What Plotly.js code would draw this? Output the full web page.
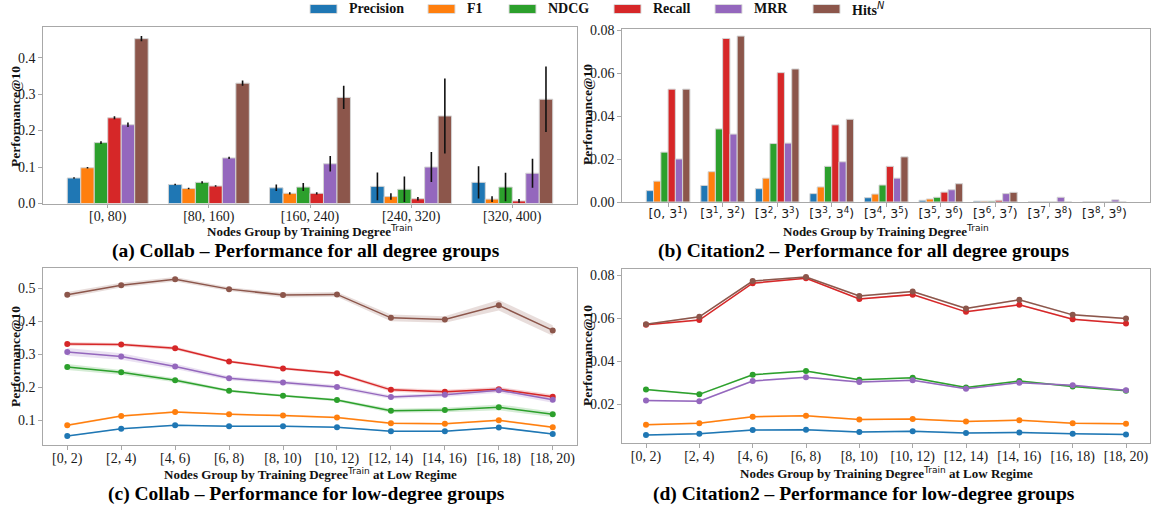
<!DOCTYPE html>
<html>
<head>
<meta charset="utf-8">
<script src="https://cdn.plot.ly/plotly-3.0.1.min.js"></script>
<style>html,body{margin:0;padding:0;background:#fff;}#chart{width:1153px;height:507px;}</style>
</head>
<body>
<div id="chart"></div>
<script>
// ---------------- DATA ----------------
const metricNames = ['Precision', 'F1', 'NDCG', 'Recall', 'MRR', 'Hits<sup><span style="font-family:DejaVu Sans;font-style:italic;font-weight:normal">N</span></sup>'];

const collabAllGroups = ['[0, 80)', '[80, 160)', '[160, 240)', '[240, 320)', '[320, 400)'];
const collabAllPrecision = [0.070, 0.052, 0.043, 0.047, 0.058];
const collabAllPrecisionErr = [0.002, 0.002, 0.009, 0.038, 0.044];
const collabAllF1 = [0.098, 0.041, 0.028, 0.019, 0.012];
const collabAllF1Err = [0.002, 0.002, 0.003, 0.009, 0.008];
const collabAllNDCG = [0.167, 0.058, 0.045, 0.039, 0.045];
const collabAllNDCGErr = [0.004, 0.003, 0.011, 0.035, 0.039];
const collabAllRecall = [0.235, 0.048, 0.028, 0.013, 0.007];
const collabAllRecallErr = [0.004, 0.002, 0.003, 0.005, 0.005];
const collabAllMRR = [0.216, 0.125, 0.109, 0.100, 0.083];
const collabAllMRRErr = [0.006, 0.003, 0.021, 0.041, 0.040];
const collabAllHits = [0.452, 0.330, 0.291, 0.240, 0.286];
const collabAllHitsErr = [0.007, 0.007, 0.032, 0.103, 0.090];

const citeAllGroups = ['[0, 3<sup>1</sup>)', '[3<sup>1</sup>, 3<sup>2</sup>)', '[3<sup>2</sup>, 3<sup>3</sup>)',
  '[3<sup>3</sup>, 3<sup>4</sup>)', '[3<sup>4</sup>, 3<sup>5</sup>)', '[3<sup>5</sup>, 3<sup>6</sup>)',
  '[3<sup>6</sup>, 3<sup>7</sup>)', '[3<sup>7</sup>, 3<sup>8</sup>)', '[3<sup>8</sup>, 3<sup>9</sup>)'];
const citeAllPrecision = [0.0053, 0.0077, 0.0062, 0.0039, 0.0020, 0.0008, 0.0004, 0, 0];
const citeAllF1 = [0.0097, 0.0141, 0.0111, 0.0070, 0.0037, 0.0014, 0.0004, 0, 0];
const citeAllNDCG = [0.0232, 0.0340, 0.0272, 0.0166, 0.0079, 0.0022, 0.0004, 0, 0];
const citeAllRecall = [0.0525, 0.0761, 0.0602, 0.0359, 0.0166, 0.0046, 0.0008, 0, 0];
const citeAllMRR = [0.0200, 0.0316, 0.0274, 0.0187, 0.0111, 0.0057, 0.0039, 0.0022, 0.0010];
const citeAllHits = [0.0525, 0.0772, 0.0619, 0.0385, 0.0210, 0.0085, 0.0045, 0, 0];

const lowGroups = ['[0, 2)', '[2, 4)', '[4, 6)', '[6, 8)', '[8, 10)', '[10, 12)', '[12, 14)', '[14, 16)', '[16, 18)', '[18, 20)'];
const collabLowPrecision = [0.052, 0.074, 0.085, 0.082, 0.082, 0.079, 0.067, 0.067, 0.078, 0.058];
const collabLowPrecisionBand = [0.002, 0.002, 0.002, 0.002, 0.002, 0.002, 0.002, 0.002, 0.002, 0.002];
const collabLowF1 = [0.085, 0.113, 0.125, 0.118, 0.114, 0.108, 0.091, 0.089, 0.100, 0.079];
const collabLowF1Band = [0.003, 0.003, 0.003, 0.003, 0.003, 0.003, 0.003, 0.003, 0.003, 0.003];
const collabLowNDCG = [0.261, 0.245, 0.221, 0.189, 0.174, 0.161, 0.129, 0.131, 0.139, 0.118];
const collabLowNDCGBand = [0.009, 0.007, 0.006, 0.004, 0.004, 0.004, 0.006, 0.007, 0.009, 0.008];
const collabLowRecall = [0.331, 0.329, 0.318, 0.278, 0.257, 0.242, 0.192, 0.186, 0.194, 0.171];
const collabLowRecallBand = [0.006, 0.005, 0.005, 0.004, 0.004, 0.004, 0.006, 0.006, 0.007, 0.007];
const collabLowMRR = [0.307, 0.293, 0.263, 0.227, 0.214, 0.201, 0.170, 0.177, 0.191, 0.162];
const collabLowMRRBand = [0.012, 0.010, 0.008, 0.006, 0.006, 0.006, 0.006, 0.007, 0.008, 0.009];
const collabLowHits = [0.480, 0.509, 0.527, 0.497, 0.479, 0.481, 0.410, 0.405, 0.448, 0.372];
const collabLowHitsBand = [0.008, 0.007, 0.007, 0.006, 0.007, 0.007, 0.010, 0.010, 0.016, 0.016];

const citeLowPrecision = [0.0057, 0.0063, 0.0080, 0.0082, 0.0071, 0.0074, 0.0066, 0.0069, 0.0063, 0.0060];
const citeLowF1 = [0.0105, 0.0112, 0.0142, 0.0146, 0.0129, 0.0132, 0.0120, 0.0126, 0.0112, 0.0109];
const citeLowNDCG = [0.0268, 0.0246, 0.0337, 0.0354, 0.0314, 0.0323, 0.0278, 0.0308, 0.0282, 0.0263];
const citeLowRecall = [0.0569, 0.0591, 0.0762, 0.0785, 0.0689, 0.0709, 0.0629, 0.0662, 0.0595, 0.0575];
const citeLowMRR = [0.0217, 0.0214, 0.0308, 0.0325, 0.0303, 0.0311, 0.0272, 0.0300, 0.0288, 0.0265];
const citeLowHits = [0.0571, 0.0606, 0.0772, 0.0791, 0.0703, 0.0723, 0.0645, 0.0685, 0.0615, 0.0598];
const citeLowBand = [0.0004, 0.0004, 0.0004, 0.0004, 0.0004, 0.0004, 0.0004, 0.0004, 0.0004, 0.0004];

const yTitleText = 'Performance@10';
const xTitleAllText = 'Nodes Group by Training Degree';
const xTitleSupText = 'Train';
const xTitleLowSuffix = 'at Low Regime';

// ---------------- STYLE / LAYOUT ----------------
const W = 1153, H = 507;
const colors = ['#1f77b4', '#ff7f0e', '#2ca02c', '#d62728', '#9467bd', '#8c564b'];
const SERIF = '"Liberation Serif", "Times New Roman", Times, serif';
const SANS = '"DejaVu Sans", sans-serif';
const px = x => x / W;
const py = y => 1 - y / H;

const collabAllSeries = [collabAllPrecision, collabAllF1, collabAllNDCG, collabAllRecall, collabAllMRR, collabAllHits];
const collabAllErrs = [collabAllPrecisionErr, collabAllF1Err, collabAllNDCGErr, collabAllRecallErr, collabAllMRRErr, collabAllHitsErr];
const citeAllSeries = [citeAllPrecision, citeAllF1, citeAllNDCG, citeAllRecall, citeAllMRR, citeAllHits];
const collabLowSeries = [collabLowPrecision, collabLowF1, collabLowNDCG, collabLowRecall, collabLowMRR, collabLowHits];
const collabLowBands = [collabLowPrecisionBand, collabLowF1Band, collabLowNDCGBand, collabLowRecallBand, collabLowMRRBand, collabLowHitsBand];
const citeLowSeries = [citeLowPrecision, citeLowF1, citeLowNDCG, citeLowRecall, citeLowMRR, citeLowHits];

function hexA(hex, a) {
  const r = parseInt(hex.slice(1, 3), 16), g = parseInt(hex.slice(3, 5), 16), b = parseInt(hex.slice(5, 7), 16);
  return `rgba(${r},${g},${b},${a})`;
}

const traces = [];
const idxA = collabAllGroups.map((_, i) => i);
const idxB = citeAllGroups.map((_, i) => i);
const idxL = lowGroups.map((_, i) => i);

collabAllSeries.forEach((vals, k) => {
  traces.push({
    type: 'bar', x: idxA, y: vals, xaxis: 'x', yaxis: 'y', name: metricNames[k], showlegend: false,
    marker: {color: colors[k], line: {color: '#d4d4d4', width: 1}},
    error_y: {type: 'data', array: collabAllErrs[k], visible: true, color: '#111', thickness: 1.6, width: 0}
  });
});
citeAllSeries.forEach((vals, k) => {
  traces.push({
    type: 'bar', x: idxB, y: vals, xaxis: 'x2', yaxis: 'y2', name: metricNames[k], showlegend: false,
    marker: {color: colors[k], line: {color: '#d4d4d4', width: 1}}
  });
});

function addLines(series, bands, xa, ya) {
  series.forEach((vals, k) => {
    const band = bands[k];
    const up = vals.map((v, i) => v + band[i]);
    const lo = vals.map((v, i) => v - band[i]);
    traces.push({
      type: 'scatter', mode: 'lines', x: idxL.concat(idxL.slice().reverse()), y: up.concat(lo.slice().reverse()),
      fill: 'toself', fillcolor: hexA(colors[k], 0.2), line: {width: 0}, hoverinfo: 'skip',
      xaxis: xa, yaxis: ya, showlegend: false
    });
  });
  series.forEach((vals, k) => {
    traces.push({
      type: 'scatter', mode: 'lines+markers', x: idxL, y: vals, name: metricNames[k],
      line: {color: colors[k], width: 1.5}, marker: {color: colors[k], size: 6},
      xaxis: xa, yaxis: ya, showlegend: false
    });
  });
}
addLines(collabLowSeries, collabLowBands, 'x3', 'y3');
addLines(citeLowSeries, citeLowSeries.map(() => citeLowBand), 'x4', 'y4');

const frame = {
  showline: true, mirror: true, linecolor: '#a8a8a8', linewidth: 1.3,
  ticks: 'outside', ticklen: 3.5, tickwidth: 1, tickcolor: '#a8a8a8',
  showgrid: false, zeroline: false, automargin: false,
  tickfont: {family: SERIF, size: 14, color: '#1a1a1a'}
};
const xframe = Object.assign({}, frame, {ticklabelstandoff: -4});

const layout = {
  width: W, height: H, margin: {l: 0, r: 0, t: 0, b: 0},
  paper_bgcolor: '#fff', plot_bgcolor: '#fff',
  barmode: 'group', bargap: 0.2, bargroupgap: 0,
  showlegend: false,
  xaxis: Object.assign({}, xframe, {domain: [px(43), px(577)], range: [-0.64, 4.64], tickvals: idxA, ticktext: collabAllGroups, anchor: 'y'}),
  yaxis: Object.assign({}, frame, {domain: [py(203.5), py(27)], range: [0, 0.484], tickvals: [0, 0.1, 0.2, 0.3, 0.4], tickformat: '.1f', anchor: 'x'}),
  xaxis2: Object.assign({}, xframe, {domain: [px(622), px(1150)], range: [-0.845, 8.835], tickvals: idxB, ticktext: citeAllGroups, anchor: 'y2',
    tickfont: {family: SANS, size: 12.5, color: '#1a1a1a'}}),
  yaxis2: Object.assign({}, frame, {domain: [py(202), py(29)], range: [0, 0.0805], tickvals: [0, 0.02, 0.04, 0.06, 0.08], tickformat: '.2f', anchor: 'x2'}),
  xaxis3: Object.assign({}, xframe, {domain: [px(43), px(577)], range: [-0.45, 9.45], tickvals: idxL, ticktext: lowGroups, anchor: 'y3'}),
  yaxis3: Object.assign({}, frame, {domain: [py(445), py(268)], range: [0.025, 0.561], tickvals: [0.1, 0.2, 0.3, 0.4, 0.5], tickformat: '.1f', anchor: 'x3'}),
  xaxis4: Object.assign({}, xframe, {domain: [px(622), px(1150)], range: [-0.45, 9.45], tickvals: idxL, ticktext: lowGroups, anchor: 'y4'}),
  yaxis4: Object.assign({}, frame, {domain: [py(443), py(269)], range: [0.002, 0.0828], tickvals: [0.02, 0.04, 0.06, 0.08], tickformat: '.2f', anchor: 'x4'}),
  shapes: [],
  annotations: []
};

// custom legend (top)
const legendX = [310, 428, 509, 614, 715, 813];
metricNames.forEach((name, k) => {
  layout.shapes.push({type: 'rect', xref: 'paper', yref: 'paper', x0: px(legendX[k]), x1: px(legendX[k] + 27), y0: py(13.5), y1: py(4.5),
    fillcolor: colors[k], line: {color: '#dcdcdc', width: 1}});
  layout.annotations.push({xref: 'paper', yref: 'paper', x: px(legendX[k] + 37), y: py(9), xanchor: 'left', yanchor: 'middle',
    text: '<b>' + name + '</b>', showarrow: false, font: {family: SERIF, size: 14, color: '#111'}});
});

// axis titles (placed as annotations for exact position)
const supSpan = '<sup><span style="font-family:DejaVu Sans;font-weight:normal">' + xTitleSupText + '</span></sup>';
const xTitleAll = '<b>' + xTitleAllText + '</b>' + supSpan;
const xTitleLow = '<b>' + xTitleAllText + '</b>' + supSpan + '<b>&nbsp;' + xTitleLowSuffix + '</b>';
const axisTitles = [
  [xTitleAll, 310, 230.5, 0], [xTitleAll, 886, 230.5, 0],
  [xTitleLow, 310, 474, 0], [xTitleLow, 886, 473, 0],
  ['<b>' + yTitleText + '</b>', 15, 117, -90], ['<b>' + yTitleText + '</b>', 587, 115, -90],
  ['<b>' + yTitleText + '</b>', 15, 357, -90], ['<b>' + yTitleText + '</b>', 587, 356, -90]
];
axisTitles.forEach(t => {
  layout.annotations.push({xref: 'paper', yref: 'paper', x: px(t[1]), y: py(t[2]), xanchor: 'center', yanchor: 'middle',
    text: t[0], textangle: t[3], showarrow: false, font: {family: SERIF, size: t[3] ? 13.5 : 13, color: '#111'}});
});

// captions
const captions = [
  ['(a) Collab – Performance for all degree groups', 306, 251],
  ['(b) Citation2 – Performance for all degree groups', 864, 251],
  ['(c) Collab – Performance for low-degree groups', 306, 494],
  ['(d) Citation2 – Performance for low-degree groups', 864, 494]
];
captions.forEach(c => {
  layout.annotations.push({xref: 'paper', yref: 'paper', x: px(c[1]), y: py(c[2]), xanchor: 'center', yanchor: 'middle',
    text: '<b>' + c[0] + '</b>', showarrow: false, font: {family: SERIF, size: 19.5, color: '#000'}});
});

Plotly.newPlot('chart', traces, layout, {displayModeBar: false, staticPlot: true});
</script>
</body>
</html>
